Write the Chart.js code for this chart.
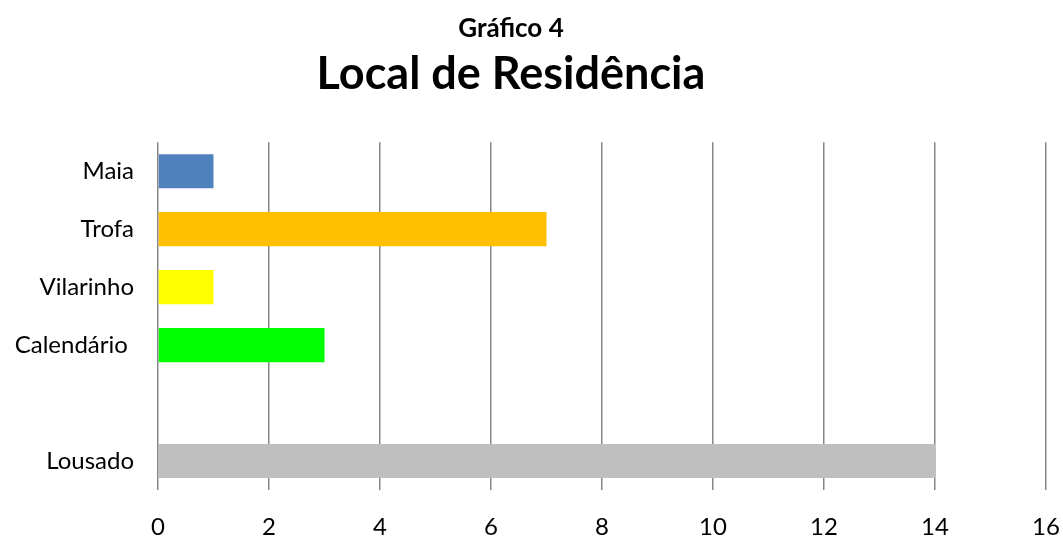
<!DOCTYPE html>
<html>
<head>
<meta charset="utf-8">
<script src="https://cdn.jsdelivr.net/npm/chart.js@4/dist/chart.umd.min.js"></script>
<style>
html,body{margin:0;padding:0;background:#fff;}
#wrap{width:1063px;height:536px;}
</style>
</head>
<body>
<div id="wrap"><canvas id="c" width="1063" height="536"></canvas></div>
<script>
const categories = ["Maia", "Trofa", "Vilarinho", "Calendário ", "", "Lousado"];
const values = [1, 7, 1, 3, null, 14];
const barColors = ["#4F81BD", "#FFC000", "#FFFF00", "#00FF00", "#FFFFFF", "#BFBFBF"];
const xTicks = [0, 2, 4, 6, 8, 10, 12, 14, 16];
const titleText = "Gráfico 4";
const subtitleText = "Local de Residência";

Chart.defaults.font.family = "Lato, 'Open Sans', sans-serif";
Chart.defaults.color = "#000";

const centerTitles = {
  id: 'centerTitles',
  afterLayout(chart) {
    chart.boxes.forEach(b => {
      if (b.options && b.options.text !== undefined && b.position === 'top') {
        b.left = 0;
        b.right = 1022;
      }
    });
  }
};

new Chart(document.getElementById('c'), {
  type: 'bar',
  data: {
    labels: categories,
    datasets: [{
      data: values,
      backgroundColor: barColors,
      borderWidth: 0,
      categoryPercentage: 1.0,
      barPercentage: 0.588
    }]
  },
  plugins: [centerTitles],
  options: {
    indexAxis: 'y',
    responsive: false,
    animation: false,
    layout: { padding: { left: 0, right: 17, top: 0, bottom: 0 } },
    plugins: {
      legend: { display: false },
      tooltip: { enabled: false },
      title: {
        display: true, text: titleText,
        font: { size: 26, weight: 'bold' },
        padding: { top: 13, bottom: 0 }
      },
      subtitle: {
        display: true, text: subtitleText,
        color: '#000',
        font: { size: 45, weight: 'bold' },
        padding: { top: 3, bottom: 41 }
      }
    },
    scales: {
      x: {
        min: 0, max: 16,
        afterBuildTicks: (s) => { s.ticks = xTicks.map(v => ({ value: v })); },
        grid: { color: '#868686', lineWidth: 1.5, drawTicks: false },
        border: { display: false },
        ticks: { font: { size: 24 }, padding: 23, color: '#000' },
        afterFit: (s) => { s.height = 46; s.paddingLeft = 0; s.paddingRight = 0; }
      },
      y: {
        grid: { display: false },
        border: { display: false },
        ticks: { font: { size: 24 }, padding: 16, color: '#000', autoSkip: false },
        afterFit: (s) => { s.width = 158; s.paddingTop = 0; s.paddingBottom = 0; }
      }
    }
  }
});
</script>
</body>
</html>
